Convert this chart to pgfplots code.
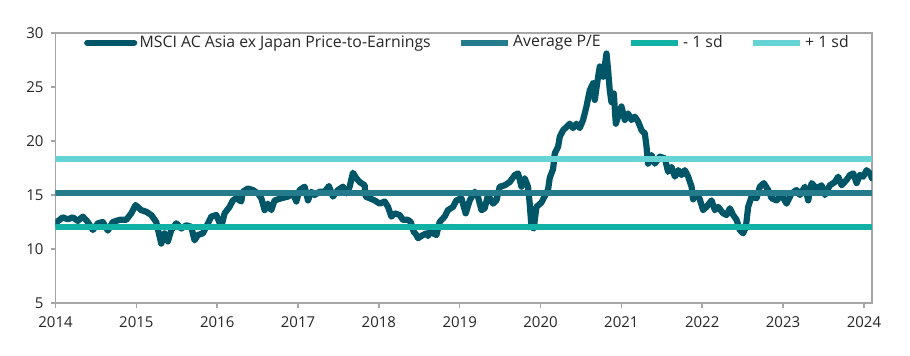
\documentclass[border=0pt]{standalone}
\usepackage{pgfplots}
\pgfplotsset{compat=1.18}
\usepackage{fontspec}
\setmainfont{Open Sans}
\definecolor{mainc}{HTML}{005566}
\definecolor{avgc}{HTML}{237B8C}
\definecolor{lowc}{HTML}{12B1A5}
\definecolor{highc}{HTML}{66D3D5}
\definecolor{framec}{HTML}{A6A6A6}
\begin{document}
\begin{tikzpicture}
\useasboundingbox (-27.75pt,-26pt) rectangle (427.25pt,151.5pt);
\begin{axis}[
  scale only axis, width=408.25pt, height=135pt,
  at={(0,0)}, anchor=south west,
  xmin=2014, xmax=2024.1, ymin=5, ymax=30,
  xtick={2014,2015,...,2024}, ytick={5,10,...,30},
  xtick pos=bottom, ytick pos=left,
  tick align=outside, major tick length=2.5pt,
  tick style={framec, line width=0.75pt},
  axis line style={framec, line width=0.75pt},
  /pgf/number format/1000 sep={},
  /pgf/number format/assume math mode=true,
  tick label style={font=\fontsize{7.5}{9}\selectfont, text=black!85},
  xticklabel style={yshift=-1pt},
  legend columns=4,
  legend style={at={(0.035,0.964)}, anchor=west, draw=none, fill=none,
    inner sep=0pt, outer sep=0pt,
    font=\fontsize{7.9}{9}\selectfont, text=black!85,
    nodes={inner xsep=1.2pt, inner ysep=0pt},
    /tikz/every even column/.append style={column sep=12.5pt}},
  legend image code/.code={\draw[#1] (0pt,0pt) -- (23.5pt,0pt);},
]
\addplot[mainc, line width=3.1pt, line join=round, line cap=round] coordinates {
(2014.000,12.4) (2014.090,12.93) (2014.152,12.75) (2014.214,12.93) (2014.276,12.6)
(2014.338,13.0) (2014.400,12.5) (2014.462,11.76) (2014.524,12.38) (2014.585,12.5)
(2014.647,11.7) (2014.709,12.5) (2014.792,12.7) (2014.875,12.7) (2014.937,13.3)
(2014.990,14.07) (2015.061,13.6) (2015.123,13.45) (2015.184,13.15) (2015.246,12.5)
(2015.308,10.5) (2015.349,11.45) (2015.390,10.7) (2015.432,11.76) (2015.494,12.38)
(2015.556,11.9) (2015.618,12.2) (2015.679,12.06) (2015.720,10.8) (2015.761,11.3)
(2015.823,11.45) (2015.865,12.06) (2015.927,13.0) (2015.989,13.15) (2016.051,12.06)
(2016.092,13.3) (2016.153,13.9) (2016.194,14.5) (2016.236,14.7) (2016.298,14.4)
(2016.318,15.3) (2016.380,15.6) (2016.442,15.46) (2016.504,15.15) (2016.546,14.7)
(2016.587,13.6) (2016.627,14.2) (2016.670,13.6) (2016.710,14.5) (2016.793,14.7)
(2016.875,14.85) (2016.937,15.15) (2016.979,14.4) (2017.020,15.46) (2017.082,15.77)
(2017.123,14.5) (2017.165,15.3) (2017.205,15.0) (2017.267,15.3) (2017.329,15.3)
(2017.382,15.83) (2017.432,14.85) (2017.494,15.46) (2017.556,15.77) (2017.598,15.15)
(2017.639,15.77) (2017.679,17.06) (2017.722,16.55) (2017.762,16.2) (2017.824,15.9)
(2017.837,14.85) (2017.886,14.7) (2017.948,14.5) (2018.010,14.2) (2018.072,14.4)
(2018.113,13.9) (2018.155,13.0) (2018.196,13.3) (2018.257,13.15) (2018.298,12.7)
(2018.360,12.7) (2018.394,12.5) (2018.431,11.6) (2018.464,11.3) (2018.484,11.0)
(2018.526,11.2) (2018.546,11.3) (2018.588,11.45) (2018.608,11.2) (2018.650,11.9)
(2018.670,11.45) (2018.712,11.3) (2018.752,12.5) (2018.814,13.0) (2018.855,13.6)
(2018.917,13.9) (2018.959,14.5) (2019.021,14.7) (2019.074,13.3) (2019.124,14.5)
(2019.186,15.3) (2019.226,14.85) (2019.269,13.6) (2019.309,13.77) (2019.350,15.0)
(2019.412,14.2) (2019.454,14.5) (2019.495,15.77) (2019.557,15.9) (2019.619,16.2)
(2019.681,16.85) (2019.722,17.0) (2019.764,15.77) (2019.804,16.55) (2019.845,15.77)
(2019.866,14.2) (2019.887,12.06) (2019.916,11.9) (2019.949,13.9) (2020.011,14.3)
(2020.052,14.9) (2020.093,15.5) (2020.114,16.6) (2020.155,17.4) (2020.176,18.86)
(2020.217,19.47) (2020.238,20.4) (2020.279,21.0) (2020.321,21.3) (2020.361,21.6)
(2020.402,21.2) (2020.444,21.6) (2020.485,21.2) (2020.526,21.95) (2020.568,23.2)
(2020.609,24.7) (2020.650,25.35) (2020.671,23.8) (2020.712,25.95) (2020.733,26.9)
(2020.774,25.95) (2020.816,28.1) (2020.835,26.6) (2020.856,24.7) (2020.877,23.6)
(2020.906,24.4) (2020.931,21.6) (2020.959,22.25) (2021.001,23.2) (2021.042,21.95)
(2021.083,22.55) (2021.125,21.95) (2021.166,22.25) (2021.207,21.8) (2021.249,21.0)
(2021.290,20.7) (2021.311,19.47) (2021.330,17.9) (2021.373,18.7) (2021.413,17.9)
(2021.475,18.55) (2021.537,18.4) (2021.578,17.15) (2021.620,17.6) (2021.661,16.7)
(2021.702,17.3) (2021.744,16.85) (2021.785,17.3) (2021.826,16.7) (2021.868,15.77)
(2021.887,14.6) (2021.929,15.2) (2021.970,14.6) (2022.011,13.6) (2022.053,13.9)
(2022.115,14.5) (2022.156,13.6) (2022.197,13.9) (2022.259,13.3) (2022.301,13.15)
(2022.342,13.77) (2022.382,13.15) (2022.425,12.7) (2022.465,11.76) (2022.506,11.45)
(2022.540,12.06) (2022.568,13.9) (2022.610,14.85) (2022.672,14.7) (2022.713,15.77)
(2022.762,16.1) (2022.816,15.46) (2022.858,14.7) (2022.920,14.5) (2022.981,15.0)
(2023.043,14.2) (2023.105,15.15) (2023.167,15.46) (2023.208,15.0) (2023.270,15.77)
(2023.311,14.5) (2023.353,16.1) (2023.415,15.6) (2023.476,15.9) (2023.517,15.0)
(2023.579,15.9) (2023.641,16.2) (2023.682,16.7) (2023.724,15.9) (2023.786,16.4)
(2023.827,16.85) (2023.868,17.0) (2023.910,16.1) (2023.950,16.85) (2023.991,16.7)
(2024.033,17.3) (2024.074,17.0) (2024.099,16.55)
};
\addlegendentry{MSCI AC Asia ex Japan Price-to-Earnings}
\addplot[avgc, line width=2.85pt] coordinates {(2014,15.2) (2024.1,15.2)};
\addlegendentry{Average P/E}
\addplot[lowc, line width=2.85pt] coordinates {(2014,12.05) (2024.1,12.05)};
\addlegendentry{- 1 sd}
\addplot[highc, line width=2.85pt] coordinates {(2014,18.35) (2024.1,18.35)};
\addlegendentry{+ 1 sd}
\end{axis}
\end{tikzpicture}
\end{document}
